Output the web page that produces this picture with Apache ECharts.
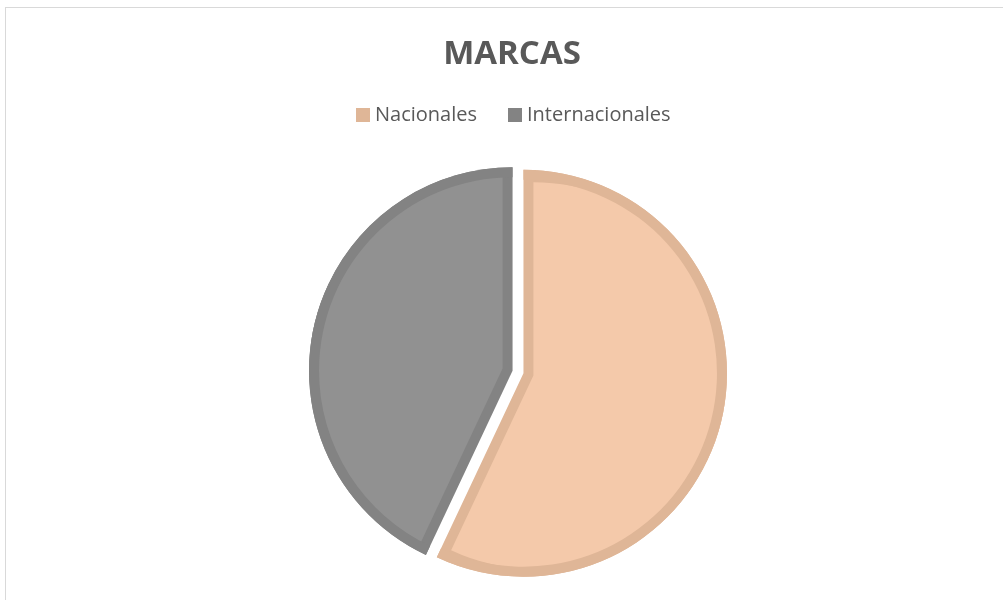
<!DOCTYPE html>
<html>
<head>
<meta charset="utf-8">
<script src="https://cdn.jsdelivr.net/npm/echarts@6/dist/echarts.min.js"></script>
<style>
  html, body { margin: 0; padding: 0; background: #fff; }
  #frame { position: absolute; left: 5px; top: 7px; width: 1030px; height: 640px; border: 1px solid #d9d9d9; }
  #chart { position: absolute; left: 0; top: 0; width: 1003px; height: 600px; }
</style>
</head>
<body>
<div id="frame"></div>
<div id="chart"></div>
<script>
// datos
var categorias = ['Nacionales', 'Internacionales'];
var valores = [57, 43];
var coloresRelleno = ['#F4C9AA', '#919191'];
var coloresBorde = ['#DFB697', '#838383'];

var titulo = 'MARCAS';
var centro = [518, 372];
var radio = 203.5;
var borde = 10;
var separacion = 5.6;

function datos(colores){
    var d = [];
    for (var i = 0; i < categorias.length; i++) {
        d.push({ name: categorias[i], value: valores[i], selected: true, itemStyle: { color: colores[i] } });
    }
    return d;
}

var base = {
    type: 'pie',
    center: centro,
    startAngle: 90,
    clockwise: true,
    selectedMode: 'multiple',
    label: { show: false },
    labelLine: { show: false },
    emphasis: { disabled: true },
    silent: true
};

var myChart = echarts.init(document.getElementById('chart'));
myChart.setOption({
    animation: false,
    title: {
        text: titulo,
        left: 507, top: 33, textAlign: 'center',
        textStyle: { fontFamily: 'Open Sans', fontWeight: 'bold', fontSize: 33, color: '#595959' }
    },
    legend: {
        data: categorias,
        left: 351, top: 100,
        itemWidth: 14, itemHeight: 14, itemGap: 31,
        icon: 'rect',
        selectedMode: false,
        textStyle: { fontFamily: 'Open Sans', fontSize: 20, color: '#595959' }
    },
    series: [
        // silueta con color de borde
        Object.assign({}, base, { name: 'borde', radius: radio, selectedOffset: separacion, data: datos(coloresBorde) }),
        // relleno interior
        Object.assign({}, base, { name: 'relleno', radius: radio - borde - 0.2, selectedOffset: separacion + borde * 1.02, data: datos(coloresRelleno) }),
        // anillo del borde exterior
        Object.assign({}, base, { name: 'anillo', radius: [radio - borde, radio], selectedOffset: separacion, data: datos(coloresBorde) })
    ]
});
</script>
</body>
</html>
